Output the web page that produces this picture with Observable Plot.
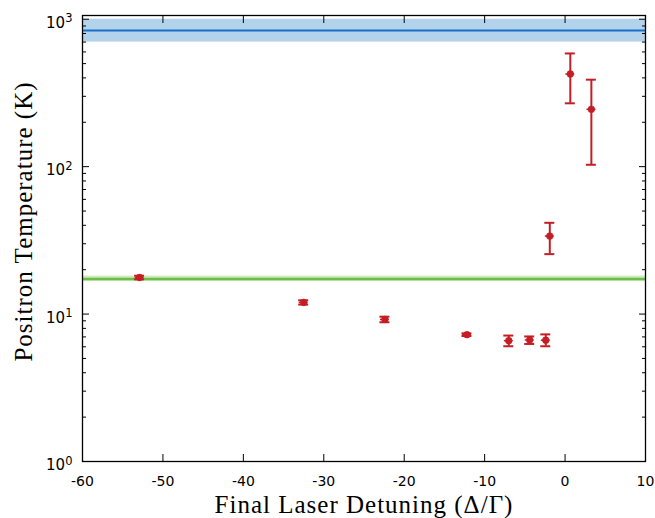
<!DOCTYPE html>
<html><head><meta charset="utf-8">
<script src="https://cdn.jsdelivr.net/npm/d3@7"></script>
<script src="https://cdn.jsdelivr.net/npm/@observablehq/plot@0.6"></script>
<style>body{margin:0;background:#fff}
g[aria-label="text"] text{letter-spacing:1px}</style>
</head><body><div id="chart"></div>
<script>
// Measured data
const detuning    = [-52.9, -32.5, -22.4, -12.2, -7.0, -4.4, -2.4, -1.9, 0.65, 3.27];
const temperature = [17.7, 12.0, 9.2, 7.25, 6.6, 6.67, 6.65, 33.8, 425, 245];
const tempLow     = [17.2, 11.6, 8.8, 7.1, 6.05, 6.27, 6.05, 25.5, 269, 103];
const tempHigh    = [18.2, 12.4, 9.6, 7.4, 7.15, 7.05, 7.28, 41.6, 586, 389];
const detuningErr = [0.55, 0.55, 0.55, 0.55, 0.55, 0.55, 0.55, 0.55, 0.55, 0.55];

// Reference levels (value, low, high)
const blueBand  = [840, 700, 1000];
const greenBand = [17.3, 16.6, 18.1];

// Axes
const xTicks = [-60, -50, -40, -30, -20, -10, 0, 10];
const yMajorTicks = [1, 10, 100, 1000];
const yMajorExponents = ["0", "1", "2", "3"];
const yMinorTicks = [1, 10, 100].flatMap(d => [2,3,4,5,6,7,8,9].map(m => m * d));
const xLabel = "Final Laser Detuning (Δ/Γ)";
const yLabel = "Positron Temperature (K)";

const data = detuning.map((x, i) => ({x, y: temperature[i], lo: tempLow[i], hi: tempHigh[i], xe: detuningErr[i]}));
const red = "#c41e24";
const capHalf = 0.62;
const tickFont = "DejaVu Sans";
const labelFont = "Liberation Serif";

const chart = Plot.plot({
  width: 655, height: 518,
  marginLeft: 82, marginRight: 10, marginTop: 15, marginBottom: 57,
  x: {domain: [-60, 10]},
  y: {type: "log", domain: [1, 1060]},
  style: {fontFamily: tickFont, fontSize: "14px", color: "#000", background: "#fff"},
  marks: [
    Plot.rect([blueBand], {y1: d => d[1], y2: d => d[2], fill: "#b3d3ec"}),
    Plot.ruleY([blueBand], {y: d => d[0], stroke: "#1a6fc6", strokeWidth: 2}),
    Plot.rect([greenBand], {y1: d => d[1], y2: d => d[2], fill: "#cdeac0"}),
    Plot.ruleY([greenBand], {y: d => d[0], stroke: "#6cbf45", strokeWidth: 2.5}),
    Plot.ruleX(data, {x: "x", y1: "lo", y2: "hi", stroke: red, strokeWidth: 2}),
    Plot.ruleY(data, {y: "lo", x1: d => d.x - capHalf, x2: d => d.x + capHalf, stroke: red, strokeWidth: 2}),
    Plot.ruleY(data, {y: "hi", x1: d => d.x - capHalf, x2: d => d.x + capHalf, stroke: red, strokeWidth: 2}),
    Plot.ruleY(data, {y: "y", x1: d => d.x - d.xe, x2: d => d.x + d.xe, stroke: red, strokeWidth: 1.5}),
    Plot.dot(data, {x: "x", y: "y", symbol: "circle", r: 3.4, fill: red, stroke: red, strokeWidth: 0.5}),
    Plot.frame({stroke: "#000", strokeWidth: 1.3}),
    Plot.axisX({anchor: "bottom", ticks: xTicks, tickSize: -7, tickPadding: 22, tickFormat: d => String(d), label: null, fontSize: 14}),
    Plot.axisX({anchor: "top", ticks: xTicks, tickSize: -7, tickFormat: () => "", label: null}),
    Plot.axisY({anchor: "left", ticks: yMajorTicks, tickSize: -7, tickFormat: () => "", label: null}),
    Plot.axisY({anchor: "left", ticks: yMajorTicks, tickSize: 0, tickPadding: 10, dy: 4, tickFormat: d => "10^" + yMajorExponents[yMajorTicks.indexOf(d)], label: null, fontSize: 15}),
    Plot.axisY({anchor: "left", ticks: yMinorTicks, tickSize: -4, tickFormat: () => "", label: null}),
    Plot.axisY({anchor: "right", ticks: yMajorTicks, tickSize: -7, tickFormat: () => "", label: null}),
    Plot.axisY({anchor: "right", ticks: yMinorTicks, tickSize: -4, tickFormat: () => "", label: null}),
    Plot.text([xLabel], {text: d => d, frameAnchor: "bottom", textAnchor: "middle", dy: 51, fontSize: 25, fontFamily: labelFont}),
    Plot.text([yLabel], {text: d => d, frameAnchor: "left", textAnchor: "middle", rotate: -90, dx: -59, dy: -17, fontSize: 25, fontFamily: labelFont})
  ]
});
// render "10^n" tick labels with a real superscript
d3.select(chart).selectAll("text").each(function() {
  const t = this.textContent;
  if (/^10\^\d$/.test(t)) {
    const [base, exp] = t.split("^");
    const s = d3.select(this);
    s.text(base);
    s.append("tspan").attr("dy", "-0.5em").attr("font-size", "11.5px").text(exp);
  }
});
document.getElementById("chart").appendChild(chart);
</script>
</body></html>
